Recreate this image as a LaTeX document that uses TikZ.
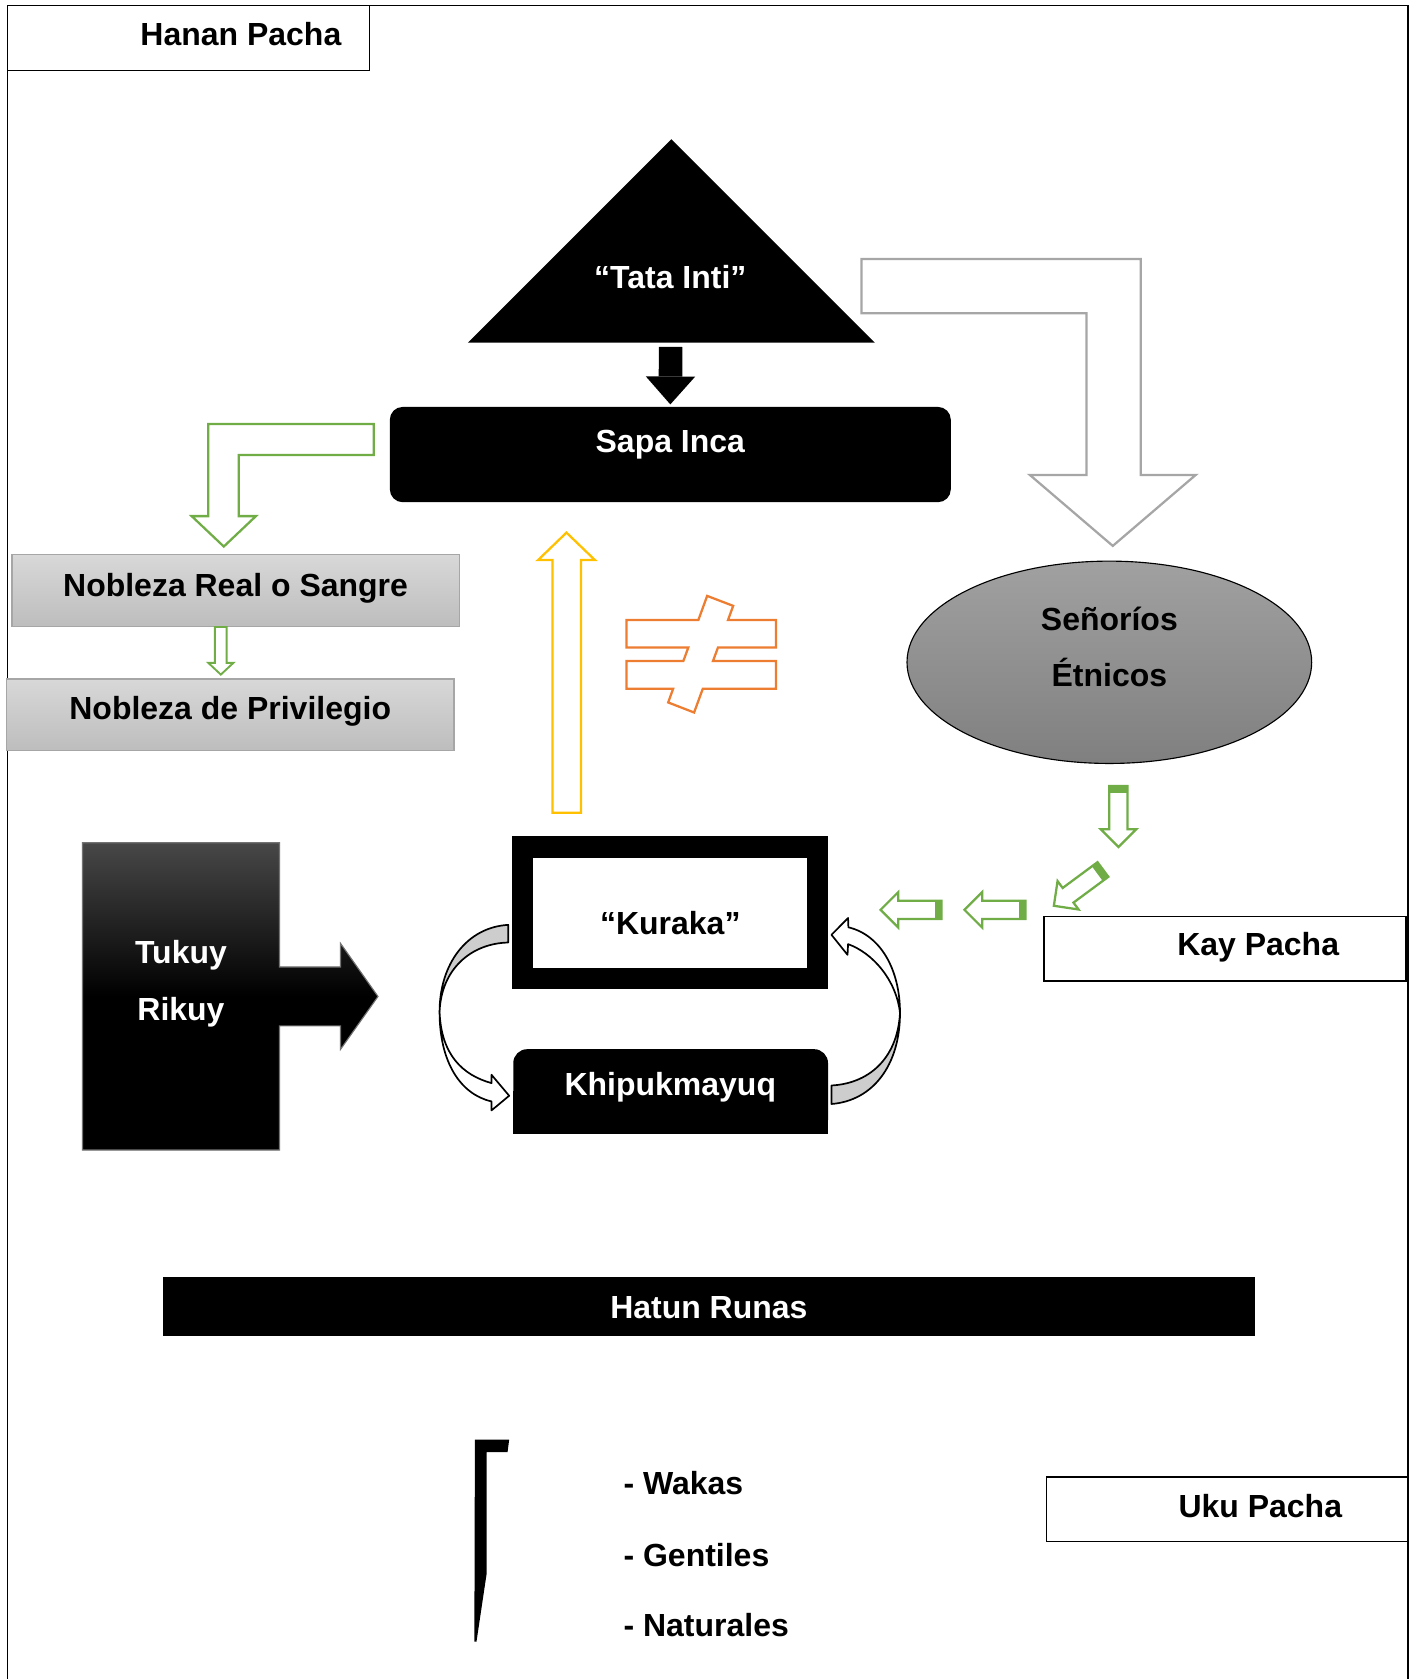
\documentclass[tikz,border=0pt]{standalone}
\usepackage{fontspec}
\setmainfont{Liberation Sans}
\usetikzlibrary{shapes.geometric,arrows.meta}
\definecolor{leaf}{RGB}{112,173,71}
\definecolor{gold}{RGB}{255,192,0}
\definecolor{tang}{RGB}{237,125,49}
\definecolor{ash}{RGB}{166,166,166}
\definecolor{curlgray}{RGB}{205,205,205}
\definecolor{noblite}{RGB}{216,216,216}
\definecolor{nobdark}{RGB}{189,189,189}
\tikzset{
  lbl/.style={font=\fontsize{17}{20}\selectfont\bfseries, text=black, inner sep=0pt,
              text height=12.2pt, text depth=0pt},
  wlbl/.style={lbl, text=white},
  pacha/.style={draw=black, line width=0.7pt, fill=white, inner sep=0pt,
              minimum width=6.76cm, minimum height=1.21cm},
  nobleza/.style={draw=ash, line width=0.8pt, top color=noblite, bottom color=nobdark,
              inner sep=0pt, minimum width=8.36cm, minimum height=1.34cm},
  hollow/.style={line width=1.2pt, fill=white, line join=miter},
  curl/.style={draw=black, line width=0.9pt, line join=round},
  blkarr/.style={line width=0.44cm, draw=black,
              -{Triangle[length=0.52cm 0, width=0.92cm 0, line width=0pt 0]}},
  grarrow/.pic={
    \filldraw[hollow, draw=leaf] (0,-8.5) -- (40.5,-8.5) -- (40.5,-16.5) -- (57,0)
      -- (40.5,16.5) -- (40.5,8.5) -- (0,8.5) -- cycle;
    \fill[leaf] (0,-8.5) rectangle (6.5,8.5);
  },
}
\begin{document}
\begin{tikzpicture}[x=0.02cm, y=-0.02cm]
  \useasboundingbox (0,0) rectangle (1324,1568);

  % the three pachas
  \node[pacha] (hananbox) at (176,35.5) {};
  \node[lbl] (hanan) at (225,32) {Hanan Pacha};
  \node[pacha] (kaybox) at (1144,886) {};
  \node[lbl] (kay) at (1175,882) {Kay Pacha};
  \node[pacha] (ukubox) at (1146,1409.5) {};
  \node[lbl] (uku) at (1177,1406) {Uku Pacha};
  \draw[line width=0.9pt] (7,1568) -- (7,5) -- (1315,5) -- (1315,1568);

  % Tata Inti and Sapa Inca
  \fill (437,320) -- (627,130) -- (817,320) -- cycle;
  \coordinate (tatabase) at (626.3,320);
  \node[wlbl] (tata) at (626,259) {“Tata Inti”};
  \node[fill=black, rounded corners=0.24cm, minimum width=10.48cm, minimum height=1.78cm,
        inner sep=0pt] (sapa) at (626,424.5) {};
  \node[wlbl] (sapatxt) at (626,412) {Sapa Inca};
  \draw[blkarr, shorten >=0.04cm] ([yshift=-0.08cm]tatabase) -- (sapa.north);

  % nobleza
  \filldraw[hollow, draw=leaf] (349,396) -- (194.5,396) -- (194.5,482) -- (179,482)
    -- (209,510.4) -- (239,482) -- (223,482) -- (223,425) -- (349,425) -- cycle;
  \node[nobleza] (real) at (220,551.5) {};
  \node[lbl] (realtxt) at (220,546) {Nobleza Real o Sangre};
  \node[nobleza] (privi) at (215,667.5) {};
  \node[lbl] (privitxt) at (215,661) {Nobleza de Privilegio};
  \filldraw[hollow, draw=leaf, line width=1pt] (200.7,585.5) -- (200.7,619) -- (194.5,619)
    -- (206.2,630) -- (218,619) -- (211.6,619) -- (211.6,585.5) -- cycle;

  % senorios etnicos
  \filldraw[hollow, draw=ash] (804.5,241.8) -- (1065.4,241.8) -- (1065.4,443.5) -- (1116.7,443.5)
    -- (1039.2,509.8) -- (961.7,443.5) -- (1014.6,443.5) -- (1014.6,292.6) -- (804.5,292.6) -- cycle;
  \node[ellipse, draw=black, line width=0.6pt, top color=black!37, bottom color=black!50,
        minimum width=7.56cm, minimum height=3.78cm, inner sep=0pt] (senorios) at (1036,618.5) {};
  \node[lbl] (senor1) at (1036,578) {Señoríos};
  \node[lbl] (senor2) at (1036,630) {Étnicos};
  \pic[rotate=-90] at (1044.5,734) {grarrow};
  \pic[rotate=216.5] at (1030,812) {grarrow};
  \pic[rotate=180] at (957.7,849.7) {grarrow};
  \pic[rotate=180] at (879.3,849.7) {grarrow};

  % kuraka up to sapa inca, not equal
  \filldraw[hollow, draw=gold] (516,759) -- (516,523) -- (502.5,523) -- (529,497.4)
    -- (555.6,523) -- (542.5,523) -- (542.5,759) -- cycle;
  \filldraw[hollow, draw=tang] (585,579) -- (652.2,579) -- (660.4,556.5) -- (684.7,565.8)
    -- (679.9,579) -- (724.6,579) -- (724.6,604.7) -- (670.5,604.7) -- (665.9,617.2)
    -- (724.6,617.2) -- (724.6,643.3) -- (656.3,643.3) -- (648.2,665.4) -- (624,656)
    -- (628.6,643.3) -- (585,643.3) -- (585,617.2) -- (638.2,617.2) -- (642.8,604.7)
    -- (585,604.7) -- cycle;

  % tukuy rikuy
  \shadedraw[top color=black!72, bottom color=black, middle color=black, draw=black!55,
             line width=0.6pt]
    (77,787) -- (261,787) -- (261,903) -- (318,903) -- (318,881) -- (353,930.6)
    -- (318,980) -- (318,958) -- (261,958) -- (261,1074) -- (77,1074) -- cycle;
  \node[wlbl] (tukuy) at (169,889) {Tukuy};
  \node[wlbl] (rikuy) at (169,942) {Rikuy};

  % kuraka and khipukmayuq
  \node[draw=black, line width=0.4cm, fill=white, minimum width=5.51cm, minimum height=2.46cm,
        inner sep=0pt] (kuraka) at (625.8,852.3) {};
  \node[lbl] (kurakatxt) at (626,862) {“Kuraka”};
  \node[fill=black, rounded corners=0.26cm, minimum width=5.88cm, minimum height=1.58cm,
        inner sep=0pt] (khipu) at (626.3,1019.3) {};
  \fill (479.3,1019.3) rectangle (773.4,1058.8);
  \node[wlbl] (khiputxt) at (626,1012) {Khipukmayuq};

  \filldraw[curl, fill=curlgray] (474.6,863.7) .. controls (436,866) and (410.5,900) .. (410.5,945)
    .. controls (412,905) and (440,881) .. (474.6,880.2) -- cycle;
  \filldraw[curl, fill=white] (410.5,945) .. controls (410.5,992) and (430,1022) .. (459,1028.6)
    -- (459,1037) -- (475.5,1023.3) -- (459,1003.7) -- (459,1011.5)
    .. controls (432,1004) and (412,985) .. (410.5,945) -- cycle;
  \filldraw[curl, fill=curlgray] (776.5,1031) .. controls (815,1028) and (840.5,995) .. (840.5,946)
    .. controls (838,990) and (810,1012) .. (776.5,1013.7) -- cycle;
  \filldraw[curl, fill=white] (840.5,946) .. controls (840.5,905) and (822,873) .. (792.3,866)
    -- (792,857.3) -- (776.5,873) -- (791.5,891.7) -- (792,881.7)
    .. controls (815,890) and (837,915) .. (840.5,946) -- cycle;

  % hatun runas
  \node[wlbl, fill=black, minimum width=20.4cm, minimum height=1.1cm] (hatun) at (662,1220.5) {Hatun Runas};

  \fill (443.5,1344.5) -- (475.5,1344.5) -- (474,1356) -- (454.4,1356) -- (454.4,1470)
    -- (445,1533) -- (443,1533) -- cycle;
  \node[lbl, anchor=west] (wakas) at (582,1385) {- Wakas};
  \node[lbl, anchor=west] (gentiles) at (582,1452) {- Gentiles};
  \node[lbl, anchor=west] (naturales) at (582,1518) {- Naturales};
\end{tikzpicture}
\end{document}
